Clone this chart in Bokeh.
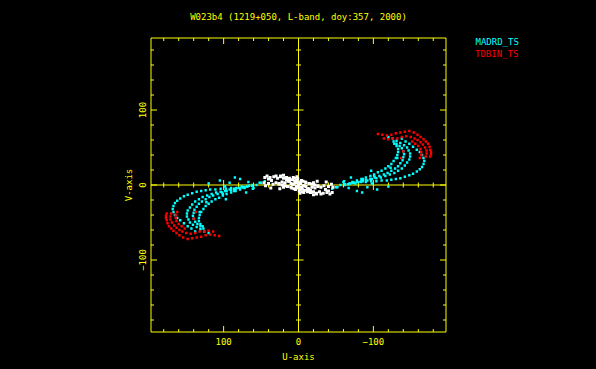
import math
from bokeh.plotting import figure
from bokeh.models import Range1d
from bokeh.core.properties import value
from bokeh.embed import file_html
from bokeh.resources import INLINE

TITLE = "W023b4 (1219+050, L-band, doy:357, 2000)"
X_LABEL = "U-axis"
Y_LABEL = "V-axis"
MAJOR_TICKS = [-100, 0, 100]
MINOR_TICKS = [-180, -160, -140, -120, -80, -60, -40, -20, 20, 40, 60, 80, 120, 140, 160, 180]
TICK_LABELS = ["\u2212100", "0", "100"]
SERIES_NAMES = ["MADRD_TS", "TDBIN_TS"]

# uv points for one half-plane; the conjugate points (-u, -v) are plotted as well
madrd_u = [
    -50, -56, -62, -69, -76, -83, -90, -97, -104, -111, -118, -124, -130, -136, -142,
    -148, -153, -158, -162, -165, -167, -168, -167, -165, -162, -158, -153, -148, -143, -138,
    -62, -68, -74, -80, -86, -92, -98, -104, -110, -116, -122, -128, -133, -138, -142,
    -145, -148, -149, -149, -147, -145, -141, -136, -131, -126, -120,
    -66, -72, -78, -84, -90, -96, -102, -108, -114, -119, -124, -129, -133, -136, -139,
    -140, -141, -140, -138, -135, -131, -127,
    -72, -78, -84, -90, -96, -101, -106, -111, -116, -120, -124, -127, -130, -132, -133,
    -133, -131, -128,
    -45, -52, -67, -78, -85, -92, -105, -120, -98, -60, -123, -132, -97, -86, -70, -101, -61, -74,
]
madrd_v = [
    -3, 0, 1, 2, 2, 4, 4, 5, 5, 6, 6, 7, 8, 9, 11,
    13, 15, 18, 21, 24, 28, 32, 36, 40, 44, 47, 51, 55, 58, 62,
    0, 2, 3, 4, 5, 6, 8, 9, 10, 12, 14, 16, 19, 22, 26,
    30, 34, 38, 42, 46, 50, 53, 56, 59, 62, 64,
    1, 3, 4, 5, 7, 8, 10, 12, 14, 16, 19, 22, 25, 29, 33,
    37, 41, 45, 49, 52, 55, 58,
    4, 6, 8, 10, 12, 14, 17, 19, 22, 25, 28, 32, 36, 40, 44,
    48, 52, 55,
    -5, -3, -4, -8, -10, -3, -6, -2, 2, 4, 23, 36, 19, 8, 10, 12, 5, 3,
]

tdbin_u = [
    -106, -112, -118, -124, -130, -136, -142, -148, -154, -159, -163, -167, -170, -173, -175,
    -176, -177, -177, -176,
    -138, -144, -150, -155, -159, -163, -166, -169, -171, -171, -170,
    -114, -120, -126, -132, -152, -156, -160, -163, -164, -164, -162,
    -140, -137,
]
tdbin_v = [
    68, 67, 66, 67, 69, 70, 71, 72, 70, 67, 64, 61, 58, 55, 51,
    47, 44, 41, 38,
    64, 65, 64, 62, 60, 57, 54, 50, 46, 42, 38,
    62, 61, 62, 62, 58, 55, 52, 48, 44, 40, 36,
    45, 36,
]

other_u = [
    42, 38, 33, 28, 24, 20, 16, 12, 8, 5, 2, -2, -6, -10, -14, -18, -22, -26,
    46, 44, 40, 37, 34, 30, 26, 22, 18, 14, 10, 6, 3, 0, -4, -8, -12, -16, -20,
    -24, -30, -36, -40, -45, 9, 4, -1, -5, 15, 20, 25, 12, 7, 2,
]
other_v = [
    12, 10, 11, 9, 12, 13, 10, 8, 7, 5, 6, 4, 5, 3, 2, 1, 0, -1,
    3, -1, 2, -4, 1, 3, 2, 4, 3, 5, 2, 1, -2, 2, -3, -1, -5, -7, -9,
    -11, -12, -6, -8, -10, -4, -6, -8, -9, -2, -3, -5, 9, 10, 11,
]

YELLOW = "#ffff00"
CYAN = "#00ffff"
RED = "#ff0000"
WHITE = "#ffffff"
FONT = "DejaVu Sans Mono"
FS = "9px"

# layout: the plot box (|u| <= XLIM, |v| <= YLIM) is drawn inside a full-canvas frame
W, H = 596, 369
XLIM, YLIM = 197, 196
BOX_W, BOX_H = 295, 294
BOX_L, BOX_T = 150.5, 37.5
PX = BOX_W / (2 * XLIM)   # pixels per u unit
PY = BOX_H / (2 * YLIM)   # pixels per v unit

def u_at(x):
    return XLIM - (x - BOX_L) / PX

def v_at(y):
    return YLIM - (y - BOX_T) / PY

p = figure(
    frame_width=W, frame_height=H, title=None,
    x_range=Range1d(u_at(0), u_at(W)), y_range=Range1d(v_at(H), v_at(0)),
    x_axis_type=None, y_axis_type=None,
    output_backend="svg", toolbar_location=None,
    min_border=0, min_border_left=0, min_border_right=0, min_border_top=0, min_border_bottom=0,
    background_fill_color="black", border_fill_color="black",
)
p.outline_line_color = None
p.grid.visible = False

line = dict(line_color=YELLOW, line_width=1)

# plot box
p.segment(x0=[XLIM, -XLIM, XLIM, XLIM], y0=[-YLIM, -YLIM, YLIM, -YLIM],
          x1=[XLIM, -XLIM, -XLIM, -XLIM], y1=[YLIM, YLIM, YLIM, -YLIM], **line)

# ticks on the box edges, pointing inwards
ticks = MINOR_TICKS + MAJOR_TICKS
tlen = [6 if t in MAJOR_TICKS else 3 for t in ticks]
n = len(ticks)
p.segment(x0=ticks, y0=[-YLIM] * n, x1=ticks, y1=[-YLIM + L / PY for L in tlen], **line)
p.segment(x0=ticks, y0=[YLIM] * n, x1=ticks, y1=[YLIM - L / PY for L in tlen], **line)
p.segment(x0=[XLIM] * n, y0=ticks, x1=[XLIM - L / PX for L in tlen], y1=ticks, **line)
p.segment(x0=[-XLIM] * n, y0=ticks, x1=[-XLIM + L / PX for L in tlen], y1=ticks, **line)

# axes through the origin, with ticks crossing them
p.segment(x0=[0, XLIM], y0=[-YLIM, 0], x1=[0, -XLIM], y1=[YLIM, 0], **line)
cross = [t for t in ticks if t != 0]
half = [5 if t in MAJOR_TICKS else 2.5 for t in cross]
p.segment(x0=cross, y0=[-h / PY for h in half], x1=cross, y1=[h / PY for h in half], **line)
p.segment(x0=[-h / PX for h in half], y0=cross, x1=[h / PX for h in half], y1=cross, **line)

# data
def both(u, v):
    return u + [-a for a in u], v + [-b for b in v]

mu, mv = both(madrd_u, madrd_v)
tu, tv = both(tdbin_u, tdbin_v)
ou, ov = both(other_u, other_v)
p.scatter(mu, mv, marker="square", size=2.4, fill_color=CYAN, line_color=None)
p.scatter(tu, tv, marker="square", size=2.4, fill_color=RED, line_color=None)
p.scatter(ou, ov, marker="square", size=3, fill_color=WHITE, line_color=None)

# texts
def txt(x, y, text, color=YELLOW, align="center", angle=0.0):
    p.text(x=x, y=y, text=text, angle=angle, text_color=color, text_align=align,
           text_baseline="middle", text_font=value(FONT), text_font_size=value(FS))

# tick labels
txt(MAJOR_TICKS, [v_at(340.5)] * 3, TICK_LABELS)
txt([u_at(141.5)] * 3, MAJOR_TICKS, TICK_LABELS, angle=math.pi / 2)
# axis labels
txt([0], [v_at(356.5)], [X_LABEL])
txt([u_at(128.5)], [0], [Y_LABEL], angle=math.pi / 2)
# title
txt([0], [v_at(16.5)], [TITLE])
# legend
txt([u_at(475)], [v_at(41.5)], [SERIES_NAMES[0]], color=CYAN, align="left")
txt([u_at(474.5)], [v_at(53)], [SERIES_NAMES[1]], color=RED, align="left")

html = file_html(p, INLINE)
html = html.replace("<head>", "<head><style>html,body{background:#000;}</style>", 1)
open("out.html", "w").write(html)
